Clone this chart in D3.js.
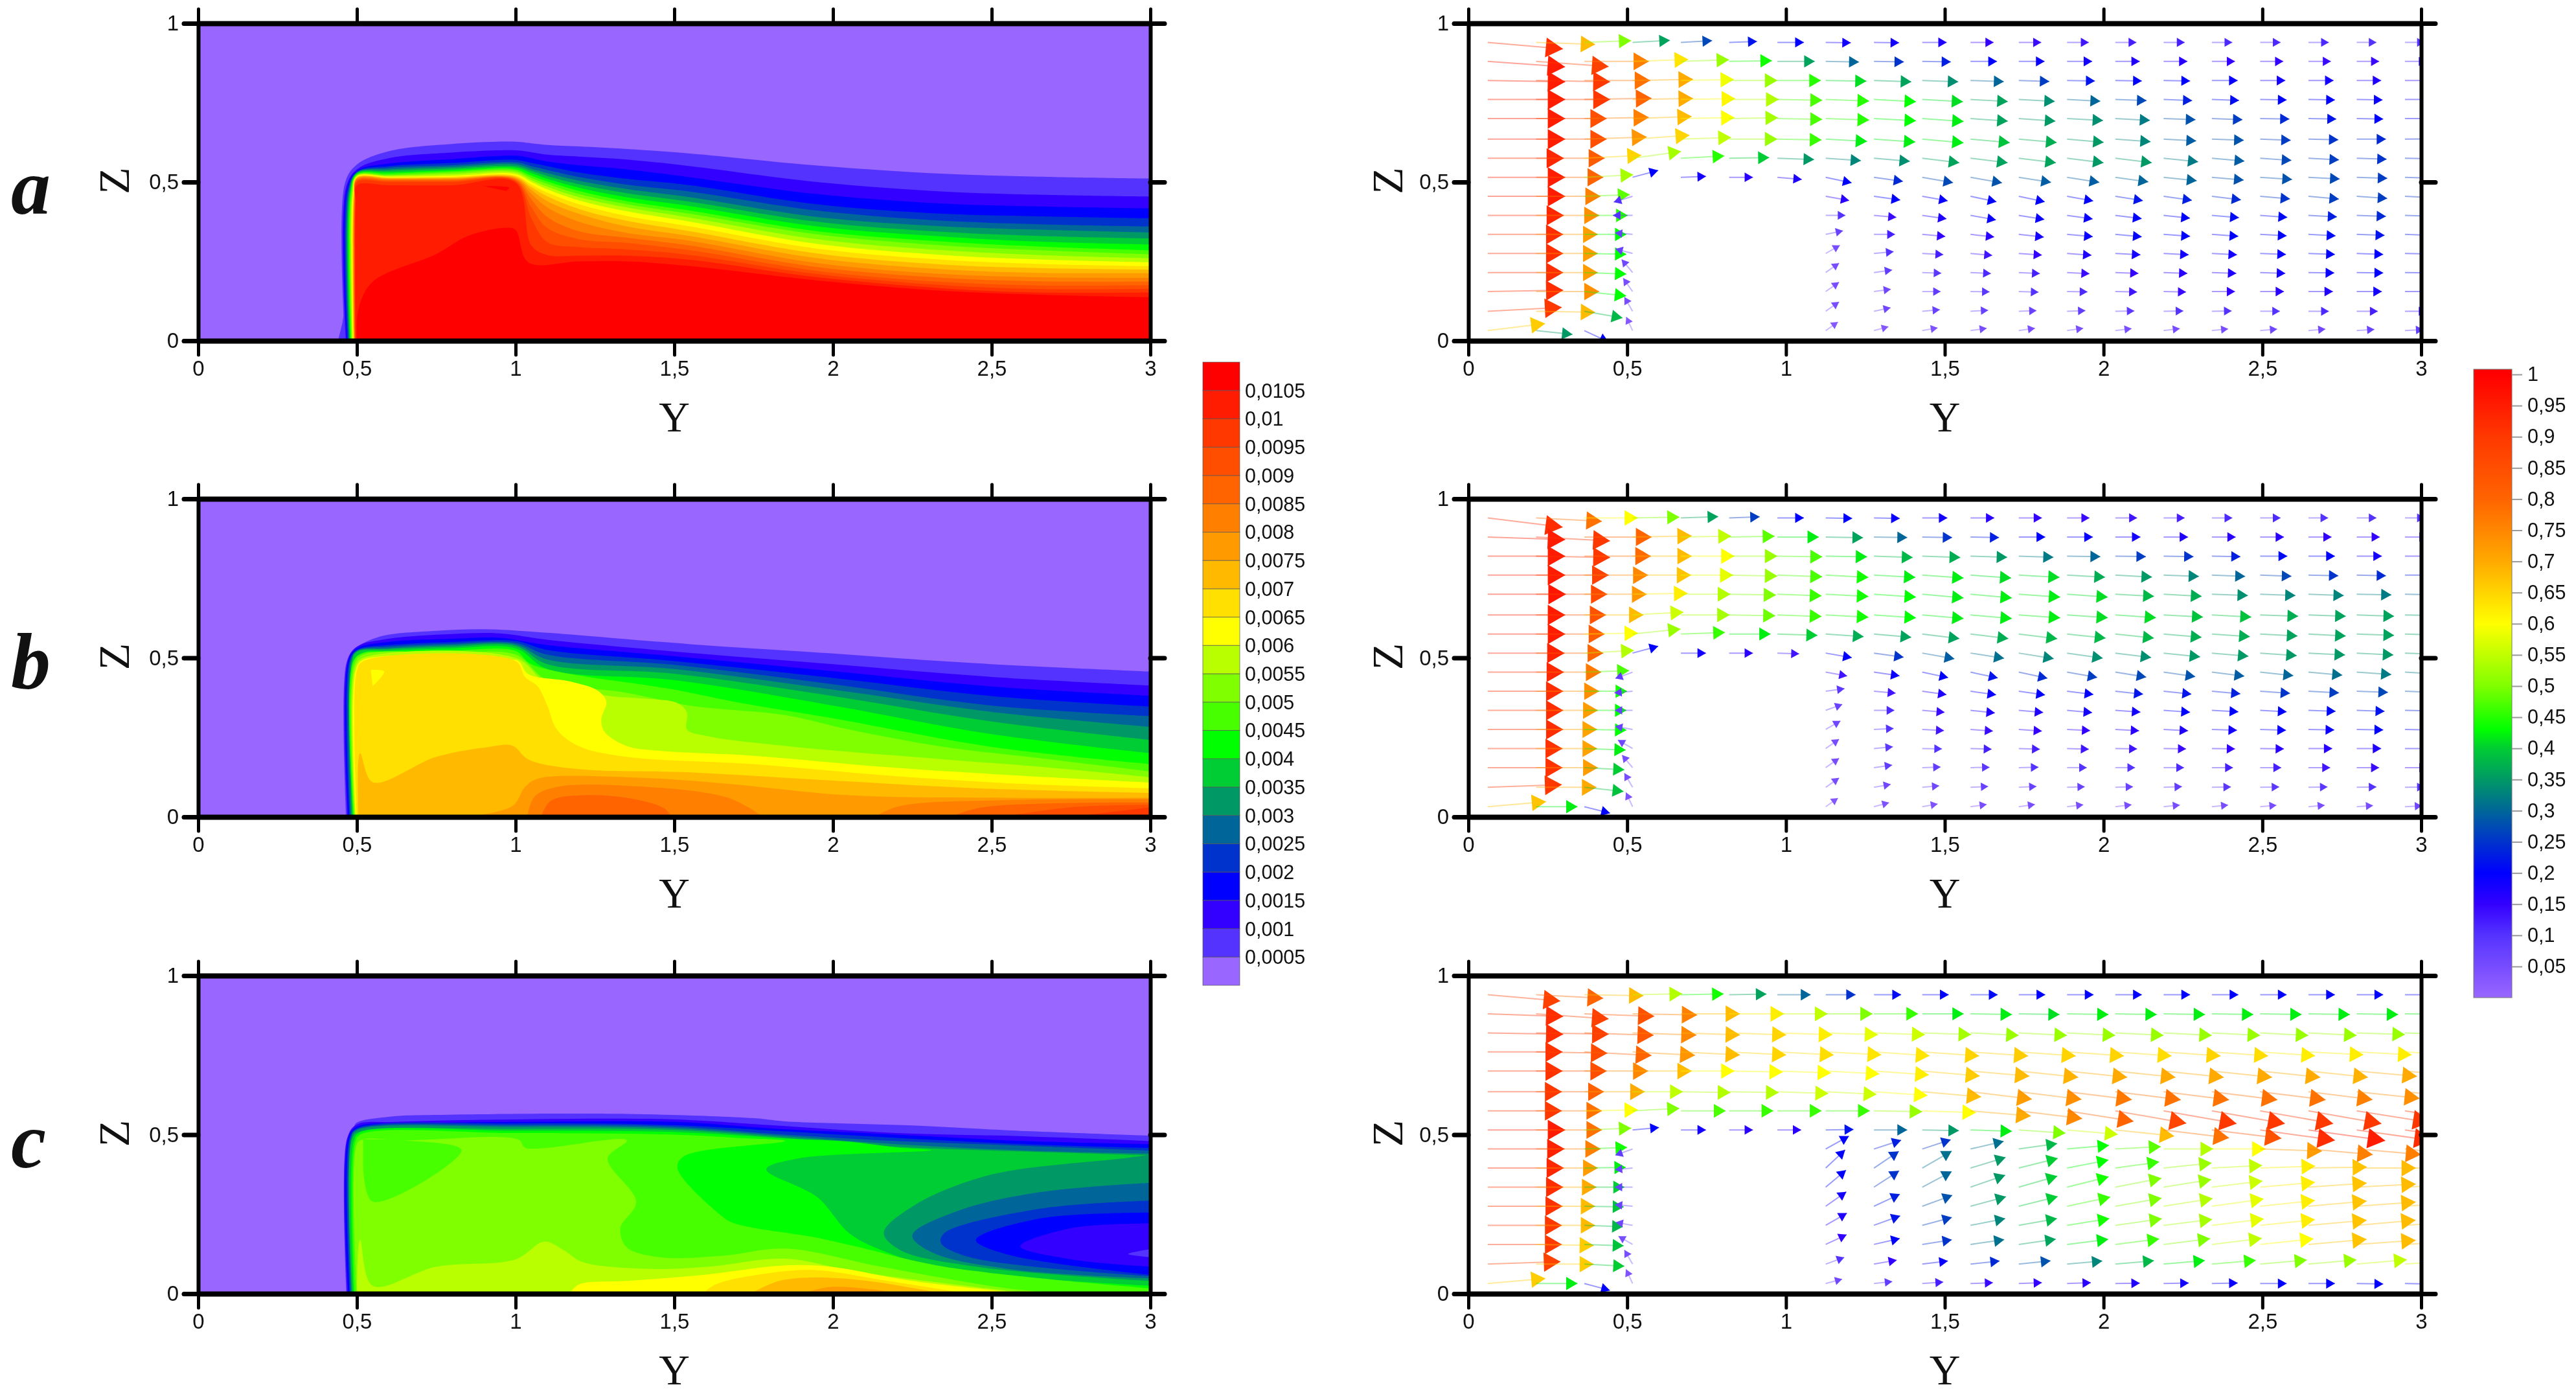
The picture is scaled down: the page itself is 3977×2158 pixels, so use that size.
<!DOCTYPE html>
<html>
<head>
<meta charset="utf-8">
<script src="https://cdn.jsdelivr.net/npm/d3@7"></script>
<style>
html, body { margin: 0; padding: 0; background: #fff; }
svg { display: block; filter: blur(0.7px); }
text { fill: #111; }
</style>
</head>
<body>
<script>
var xTicks = [0, 0.5, 1, 1.5, 2, 2.5, 3];
var zTicks = [0, 0.5, 1];
var panelNames = ['a', 'b', 'c'];

// colour of each concentration band, lowest first
var bandColors = ['#9966ff', '#5533ff', '#3300ff', '#0000ff', '#0033cc', '#006699', '#009966', '#00cc33',
    '#00ff00', '#48ff00', '#80ff00', '#b9ff00', '#ffff00', '#ffe000', '#ffba00', '#ff9b00',
    '#ff8000', '#ff6400', '#ff4e00', '#ff3800', '#ff1c00', '#ff0000'];
var bandLabels = ['0,0005', '0,001', '0,0015', '0,002', '0,0025', '0,003', '0,0035', '0,004', '0,0045', '0,005',
    '0,0055', '0,006', '0,0065', '0,007', '0,0075', '0,008', '0,0085', '0,009', '0,0095', '0,01', '0,0105'];

var speedTicks = [0.05, 0.1, 0.15, 0.2, 0.25, 0.3, 0.35, 0.4, 0.45, 0.5, 0.55, 0.6, 0.65, 0.7, 0.75, 0.8, 0.85, 0.9, 0.95, 1];
var speedStops = [0, 0.1, 0.15, 0.2, 0.3, 0.35, 0.4, 0.43, 0.5, 0.6, 0.7, 0.8, 0.9, 1];
var speedColors = ['#9966ff', '#5533ff', '#3300ff', '#0000ff', '#006699', '#009966', '#00cc33', '#00ff00',
    '#80ff00', '#ffff00', '#ffaa00', '#ff6400', '#ff3800', '#ff0000'];

// panel a: height of each contour (0,0005 ... 0,01) at each station along Y
var aStations = [0.5, 0.6, 0.8, 1, 1.05, 1.1, 1.2, 1.35, 1.55, 1.95, 2.35, 2.65, 3];
var aWall = [0.462, 0.465, 0.468, 0.47, 0.473, 0.475, 0.477, 0.479, 0.481, 0.483, 0.485, 0.487, 0.489, 0.49, 0.491, 0.492, 0.493, 0.494, 0.495, 0.496];
var aHeights = [
    [.555, .54, .535, .533, .531, .53, .528, .526, .524, .522, .52, .518, .516, .514, .512, .51, .507, .504, .5, .49],
    [.597, .575, .558, .55, .545, .54, .535, .53, .526, .522, .52, .517, .515, .513, .511, .509, .507, .504, .5, .49],
    [.62, .593, .572, .56, .553, .548, .543, .538, .534, .53, .525, .52, .517, .514, .512, .51, .507, .504, .5, .49],
    [.627, .6, .583, .57, .562, .556, .55, .545, .54, .535, .53, .525, .52, .517, .514, .511, .508, .505, .502, .498],
    [.622, .594, .575, .56, .55, .542, .535, .528, .52, .513, .506, .5, .492, .484, .475, .462, .445, .42, .385, .3],
    [.617, .586, .565, .55, .538, .528, .519, .51, .502, .494, .485, .477, .467, .455, .44, .42, .39, .355, .31, .27],
    [.612, .58, .553, .53, .516, .504, .493, .482, .472, .462, .452, .442, .43, .415, .4, .375, .345, .32, .295, .268],
    [.604, .571, .54, .51, .492, .478, .465, .452, .44, .43, .42, .408, .393, .378, .36, .34, .325, .308, .288, .268],
    [.59, .55, .515, .49, .47, .452, .438, .424, .41, .4, .388, .375, .36, .345, .33, .315, .3, .285, .27, .255],
    [.552, .5, .462, .43, .41, .39, .375, .36, .345, .335, .32, .305, .29, .275, .26, .245, .232, .22, .21, .2],
    [.526, .47, .432, .4, .378, .36, .343, .328, .312, .3, .285, .27, .255, .24, .225, .21, .198, .185, .175, .165],
    [.517, .46, .423, .392, .367, .35, .33, .312, .297, .285, .27, .256, .242, .229, .214, .2, .187, .174, .163, .152],
    [.511, .454, .417, .386, .36, .341, .322, .303, .285, .272, .26, .247, .235, .224, .213, .198, .186, .175, .164, .152]
];
var aCore = [[.5, 0], [.505, .1], [.55, .186], [.75, .273], [.85, .33], [.97, .356], [1, .349], [1.04, .247], [1.2, .25], [1.35, .25], [1.55, .235], [1.95, .19], [2.35, .157], [2.65, .145], [3, .137]];
var aFlare = [[.44, 0], [.455, .06], [.465, .14], [.47, 0]];
var aSpot = [[.9, .487], [.98, .482], [.97, .472]];

// panel b: regions above each level, each one is [band, outline]; outlines run down to z = 0
var bAreas = [
    [1, [[.466, 0], [.466, .48], [.49, .525], [.57, .566], [.75, .585], [.9, .59], [1.07, .581], [1.55, .543], [1.95, .517], [2.45, .483], [3, .457]]],
    [2, [[.47, 0], [.47, .49], [.5, .535], [.6, .56], [.8, .575], [.95, .577], [1.1, .557], [1.5, .52], [2, .48], [2.5, .44], [3, .413]]],
    [3, [[.473, 0], [.473, .49], [.5, .53], [.6, .55], [.8, .56], [.95, .563], [1.1, .54], [1.5, .505], [2, .458], [2.5, .41], [3, .381]]],
    [4, [[.476, 0], [.476, .49], [.5, .525], [.6, .54], [.8, .55], [1, .553], [1.1, .525], [1.5, .49], [2, .437], [2.5, .38], [3, .347]]],
    [5, [[.479, 0], [.479, .49], [.5, .523], [.6, .535], [.8, .545], [1, .547], [1.1, .51], [1.5, .478], [2, .417], [2.5, .35], [3, .317]]],
    [6, [[.482, 0], [.482, .49], [.5, .521], [.6, .53], [.8, .54], [1, .542], [1.1, .495], [1.5, .465], [2, .4], [2.5, .33], [3, .283]]],
    [7, [[.485, 0], [.485, .49], [.5, .519], [.6, .527], [.8, .535], [1, .537], [1.1, .48], [1.5, .45], [2, .38], [2.5, .3], [3, .242]]],
    [8, [[.488, 0], [.488, .49], [.52, .517], [.6, .522], [.8, .53], [1, .53], [1.1, .465], [1.5, .43], [2, .35], [2.5, .26], [3, .2]]],
    [9, [[.49, 0], [.49, .49], [.52, .515], [.6, .517], [.8, .523], [1, .522], [1.05, .48], [1.5, .4], [1.7, .36], [2, .31], [2.5, .22], [3, .166]]],
    [10, [[.492, 0], [.492, .48], [.52, .51], [.8, .515], [1, .51], [1.1, .43], [1.35, .39], [1.55, .35], [1.85, .32], [2.05, .275], [2.35, .22], [2.65, .185], [3, .143]]],
    [11, [[.494, 0], [.494, .47], [.52, .5], [1, .5], [1.1, .42], [1.29, .381], [1.4, .372], [1.51, .358], [1.54, .328], [1.54, .275], [1.61, .253], [1.85, .223], [2.35, .181], [2.65, .158], [3, .125]]],
    [12, [[.496, 0], [.496, .46], [.52, .494], [.98, .494], [1.01, .49], [1.04, .449], [1.17, .426], [1.26, .396], [1.286, .362], [1.27, .306], [1.28, .268], [1.35, .223], [1.45, .208], [1.75, .192], [2.15, .158], [2.55, .132], [3, .108]]],
    [13, [[.5, 0], [.5, .46], [.52, .49], [1, .49], [1.03, .44], [1.07, .41], [1.1, .35], [1.13, .275], [1.2, .222], [1.35, .189], [1.75, .166], [2.15, .132], [2.55, .106], [3, .09]]],
    [14, [[.505, 0], [.51, .2], [.55, .109], [.75, .189], [.91, .219], [.99, .224], [1.04, .181], [1.19, .151], [1.55, .14], [1.95, .117], [2.45, .09], [3, .075]]],
    [15, [[.84, 0], [.99, .034], [1.03, .094], [1.07, .12], [1.35, .125], [1.65, .106], [2.05, .068], [2.55, .06], [3, .06]]],
    [16, [[1.036, 0], [1.06, .064], [1.13, .094], [1.35, .098], [1.67, .06], [1.78, 0]]],
    [16, [[2.13, 0], [2.21, .034], [2.55, .053], [3, .056]]],
    [17, [[1.08, 0], [1.11, .05], [1.21, .068], [1.35, .06], [1.47, .026], [1.49, 0]]],
    [17, [[2.37, 0], [2.47, .03], [3, .045]]],
    [18, [[2.53, 0], [2.75, .03], [3, .038]]],
    [19, [[2.75, 0], [3, .03]]]
];
var bPatches = [
    [12, [[.544, .462], [.586, .457], [.55, .411]]]
];

// panel c
var cAreas = [
    [1, [[.467, 0], [.467, .48], [.49, .523], [.5, .538], [.61, .557], [.75, .562], [1.35, .565], [1.75, .552], [1.85, .542], [2.25, .529], [2.55, .514], [3, .497]]],
    [2, [[.47, 0], [.47, .49], [.5, .532], [.62, .54], [1, .548], [1.5, .548], [1.8, .53], [2.2, .505], [2.6, .495], [3, .48]]],
    [3, [[.473, 0], [.473, .49], [.5, .525], [.7, .535], [1, .54], [1.5, .54], [1.8, .52], [2.2, .5], [2.6, .48], [3, .47]]],
    [4, [[.477, 0], [.477, .49], [.5, .52], [1, .535], [1.5, .53], [1.85, .51], [2.2, .49], [2.6, .47], [3, .458]]],
    [5, [[.48, 0], [.48, .49], [.5, .517], [1, .53], [1.5, .525], [1.85, .5], [2.2, .48], [2.6, .465], [3, .45]]],
    [6, [[.483, 0], [.483, .49], [.5, .514], [1, .525], [1.5, .52], [1.85, .495], [2.2, .47], [2.6, .45], [3, .44]]],
    [7, [[.486, 0], [.486, .49], [.51, .51], [1, .518], [1.5, .515], [1.85, .49], [2.2, .462], [2.6, .447], [3, .435]]],
    [8, [[.49, 0], [.49, .48], [.51, .507], [1, .512], [1.5, .508], [1.85, .488], [2.05, .478], [2.2, .46], [2.31, .451], [1.89, .425], [1.79, .391], [1.95, .304], [2.05, .191], [2.15, .138], [2.35, .078], [3, .025]]],
    [9, [[.493, 0], [.493, .47], [.51, .5], [1, .505], [1.5, .5], [1.7, .49], [1.85, .48], [1.53, .432], [1.51, .395], [1.65, .244], [1.69, .221], [1.95, .176], [2.07, .149], [2.35, .085], [3, .017]]],
    [10, [[.5, 0], [.5, .47], [.52, .485], [.65, .482], [1.01, .484], [1.03, .459], [1.35, .482], [1.29, .425], [1.38, .289], [1.33, .206], [1.35, .146], [1.45, .115], [1.65, .119], [1.85, .142], [2.15, .085], [2.55, .017], [2.75, 0]]],
    [11, [[.5, 0], [.51, .17], [.55, .025], [.75, .085], [1, .108], [1.09, .164], [1.15, .138], [1.21, .1], [1.43, .078], [1.61, .085], [1.85, .11], [2.07, .07], [2.63, 0]]],
    [12, [[1.17, 0], [1.2, .029], [1.35, .04], [1.59, .059], [1.85, .089], [1.99, .085], [2.25, .04], [2.61, 0]]],
    [13, [[1.59, 0], [1.63, .029], [1.81, .066], [1.95, .074], [2.15, .044], [2.43, 0]]],
    [14, [[1.74, 0], [1.83, .04], [1.95, .051], [2.11, .04], [2.35, 0]]],
    [15, [[1.9, 0], [1.99, .021], [2.13, .013], [2.21, 0]]]
];
var cPatches = [
    [9, [[.52, .485], [.65, .482], [.83, .451], [.55, .289], [.52, .395]]],
    [6, [[3, .437], [2.91, .425], [2.49, .372], [2.25, .274], [2.16, .191], [2.21, .138], [2.45, .085], [3, .04]]],
    [5, [[3, .349], [2.65, .319], [2.39, .259], [2.25, .183], [2.31, .131], [2.55, .078], [3, .048]]],
    [4, [[3, .293], [2.65, .267], [2.35, .19], [2.34, .16], [2.43, .115], [3, .055]]],
    [3, [[3, .255], [2.65, .236], [2.45, .169], [2.55, .123], [3, .059]]],
    [2, [[3, .221], [2.75, .206], [2.59, .149], [2.75, .108], [3, .085]]],
    [1, [[3, .14], [2.93, .125], [3, .115]]]
];

// vector field sampling points
var vecY = [.061, .213, .365, .517, .669, .821, .973, 1.125, 1.277, 1.429, 1.581, 1.733, 1.885, 2.037, 2.189, 2.341, 2.493, 2.645, 2.797, 2.949];
var vecZ = [.94, .88, .82, .76, .7, .635, .575, .515, .455, .395, .335, .275, .215, .155, .093, .032];
var _ = null;

// speed in hundredths, rows top to bottom, and direction in degrees from +Y
var aSpeed = [
    [92, 68, 50, 36, 27, 22, 20, 18, 18, 17, 15, 14, 13, 12, 12, 11, 11, 11, 10, 10],
    [95, 88, 76, 63, 52, 44, 36, 30, 25, 23, 20, 19, 18, 17, 16, 15, 15, 14, 14, 13],
    [95, 90, 78, 70, 59, 52, 45, 41, 36, 34, 30, 26, 22, 20, 20, 19, 18, 18, 17, 16],
    [95, 90, 80, 70, 61, 54, 47, 45, 43, 41, 36, 34, 30, 27, 23, 21, 20, 20, 19, 18],
    [95, 85, 76, 68, 60, 53, 47, 45, 43, 42, 36, 35, 34, 32, 28, 26, 24, 22, 20, 19],
    [95, 85, 73, 65, 55, 52, 46, 42, 42, 42, 39, 37, 35, 33, 29, 28, 26, 25, 24, 23],
    [93, 82, 65, 53, 45, 40, 35, 33, 34, 36, 36, 36, 35, 35, 32, 29, 27, 26, 25, 24],
    [95, 80, 53, 20, 18, 16, 17, 20, 24, 27, 28, 29, 29, 30, 30, 28, 28, 27, 26, 25],
    [95, 76, 48, 10, _, _, _, 16, 20, 19, 20, 20, 20, 22, 23, 24, 25, 26, 26, 25],
    [93, 74, 45, 10, _, _, _, 10, 14, 17, 19, 19, 19, 20, 20, 21, 21, 23, 24, 24],
    [92, 72, 43, 7, _, _, _, 7, 12, 15, 16, 18, 19, 20, 20, 20, 20, 21, 22, 22],
    [92, 72, 43, 7, _, _, _, 5, 10, 12, 13, 15, 17, 18, 18, 18, 19, 20, 20, 20],
    [92, 72, 43, 6, _, _, _, 5, 8, 9, 11, 12, 14, 15, 16, 17, 18, 19, 20, 20],
    [92, 74, 43, 5, _, _, _, 5, 6, 8, 9, 10, 11, 13, 14, 15, 16, 17, 18, 18],
    [90, 68, 38, 5, _, _, _, 5, 6, 7, 7, 7, 8, 9, 10, 10, 10, 11, 12, 13],
    [66, 35, 20, 3, _, _, _, 3, 3, 4, 5, 5, 5, 5, 5, 5, 6, 6, 7, 8]
];
var aAngle = [
    [-5, -2, 2, 3, 3, 2, 0, -1, -1, 0, 0, 0, 0, 0, 0, 0, 0, 0, 0, 0],
    [-4, -4, 0, 2, 2, 1, 0, -1, -1, -1, 0, 0, 0, 0, 0, 0, 0, 0, 0, 0],
    [-1, -1, 0, 1, 1, 0, 0, -1, -2, -2, -2, -2, -1, -1, -1, 0, 0, 0, 0, 0],
    [0, 0, 1, 1, 1, 0, -1, -2, -3, -3, -3, -3, -3, -2, -2, -2, -1, -1, -1, 0],
    [0, 0, 1, 2, 1, 1, -1, -2, -3, -4, -4, -4, -3, -3, -2, -2, -1, -1, -1, 0],
    [0, 0, 2, 4, 2, 0, -1, -3, -4, -5, -5, -5, -5, -4, -3, -2, -2, -1, 0, 1],
    [0, 0, 3, 8, 3, 1, -2, -4, -5, -7, -7, -7, -7, -7, -6, -5, -4, -3, -2, -1],
    [0, 0, 3, 15, 2, 0, -5, -12, -8, -10, -10, -9, -9, -8, -6, -5, -4, -3, -2, -2],
    [0, 0, 2, 197, _, _, _, -10, -8, -10, -12, -12, -10, -9, -8, -7, -5, -5, -4, -3],
    [0, 0, 0, 180, _, _, _, 0, -5, -8, -10, -9, -8, -7, -6, -5, -4, -3, -2, -2],
    [0, 0, 0, 175, _, _, _, 12, 0, -5, -6, -6, -5, -5, -4, -4, -3, -3, -2, -2],
    [0, 0, -1, 165, _, _, _, 30, 5, -3, -5, -4, -4, -3, -3, -3, -2, -2, -2, -1],
    [0, 0, -2, 130, _, _, _, 35, 8, -2, -3, -3, -3, -2, -2, -2, -2, -1, -1, -1],
    [1, 0, -6, 125, _, _, _, 35, 8, 0, -1, -2, -1, -1, -1, 0, 0, 0, 0, 0],
    [3, -1, -10, 120, _, _, _, 35, 12, 5, 3, 2, 2, 1, 1, 1, 0, 0, 0, 0],
    [7, -6, -25, 115, _, _, _, 35, 15, 10, 8, 8, 8, 7, 7, 6, 5, 5, 4, 3]
];

var bSpeed = [
    [92, 78, 60, 50, 36, 26, 20, 20, 19, 18, 16, 15, 14, 13, 12, 11, 11, 10, 10, 10],
    [95, 90, 80, 68, 55, 48, 42, 36, 30, 25, 23, 20, 19, 18, 17, 16, 16, 15, 15, 14],
    [95, 90, 79, 68, 60, 52, 47, 42, 38, 37, 35, 32, 30, 26, 25, 23, 21, 20, 18, 17],
    [95, 88, 75, 67, 58, 52, 47, 44, 42, 42, 41, 41, 37, 35, 33, 30, 27, 25, 24, 22],
    [96, 86, 73, 62, 54, 50, 46, 44, 43, 42, 42, 42, 41, 38, 37, 34, 33, 33, 32, 30],
    [95, 84, 68, 56, 53, 49, 46, 44, 43, 42, 42, 42, 41, 41, 39, 39, 37, 36, 36, 35],
    [95, 82, 60, 52, 46, 42, 40, 37, 36, 36, 37, 38, 38, 38, 37, 37, 36, 36, 36, 36],
    [94, 80, 54, 20, 18, 16, 13, 20, 25, 29, 31, 33, 34, 34, 35, 35, 35, 35, 35, 35],
    [93, 77, 47, 8, _, _, _, 13, 19, 20, 22, 24, 26, 27, 28, 29, 30, 31, 32, 32],
    [92, 74, 44, 8, _, _, _, 9, 13, 17, 19, 20, 20, 22, 22, 23, 25, 26, 27, 28],
    [92, 72, 43, 7, _, _, _, 7, 11, 14, 17, 17, 18, 18, 20, 20, 20, 21, 22, 23],
    [92, 71, 43, 7, _, _, _, 6, 10, 13, 14, 15, 15, 16, 17, 18, 19, 19, 20, 20],
    [91, 71, 42, 6, _, _, _, 5, 9, 10, 12, 12, 13, 13, 14, 15, 16, 16, 17, 18],
    [91, 72, 40, 5, _, _, _, 5, 8, 8, 9, 10, 10, 10, 11, 12, 12, 13, 14, 14],
    [90, 70, 39, 5, _, _, _, 5, 6, 6, 7, 7, 7, 7, 8, 9, 9, 9, 10, 10],
    [67, 42, 20, 4, _, _, _, 3, 4, 4, 5, 5, 5, 5, 5, 5, 5, 5, 5, 6]
];
var bAngle = [
    [-7, -3, 0, 1, 2, 2, 0, -1, -1, 0, 0, 0, 0, 0, 0, 0, 0, 0, 0, 0],
    [-2, -3, 0, 1, 1, 1, 0, -1, -1, -1, -1, 0, 0, 0, 0, 0, 0, 0, 0, 0],
    [0, -1, 0, 0, 0, 0, -1, -1, -2, -2, -2, -2, -1, -1, -1, -1, 0, 0, 0, 0],
    [0, 0, 0, 0, 0, -1, -2, -3, -3, -4, -4, -3, -3, -3, -2, -2, -2, -1, -1, 0],
    [0, 0, 0, 1, 0, -1, -2, -3, -4, -5, -5, -4, -4, -3, -3, -2, -2, -2, -1, -1],
    [0, 0, 0, 3, 0, -1, -2, -3, -4, -5, -5, -4, -4, -4, -3, -3, -2, -2, -2, -1],
    [0, 0, 1, 6, 2, 0, -2, -4, -5, -7, -7, -7, -6, -6, -5, -4, -3, -3, -2, -2],
    [0, 0, 3, 15, 0, 0, -2, -10, -8, -10, -9, -9, -8, -7, -6, -5, -4, -3, -3, -2],
    [0, 0, 2, 200, _, _, _, -10, -8, -12, -12, -12, -10, -9, -8, -7, -6, -5, -4, -3],
    [0, 0, 0, 185, _, _, _, 8, -5, -8, -8, -8, -7, -6, -6, -5, -4, -3, -2, -2],
    [0, 0, 0, 180, _, _, _, 20, 0, -5, -6, -5, -5, -4, -4, -3, -3, -2, -2, -1],
    [0, 0, -1, 170, _, _, _, 30, 3, -3, -4, -4, -3, -3, -3, -2, -2, -1, -1, -1],
    [0, 0, -2, 150, _, _, _, 35, 5, -1, -2, -2, -2, -1, -1, -1, -1, 0, 0, 0],
    [0, 0, -3, 130, _, _, _, 35, 8, 2, 1, 1, 0, 0, 0, 0, 0, 0, 0, 0],
    [2, 0, -6, 120, _, _, _, 35, 10, 5, 3, 3, 2, 2, 2, 1, 1, 1, 1, 1],
    [5, 0, -14, 115, _, _, _, 35, 15, 10, 8, 8, 7, 7, 6, 6, 5, 5, 4, 3]
];

var cSpeed = [
    [88, 80, 68, 54, 44, 36, 30, 25, 21, 20, 21, 20, 20, 20, 20, 20, 20, 20, 20, 20],
    [92, 88, 84, 76, 68, 62, 55, 50, 46, 42, 42, 41, 42, 42, 42, 42, 42, 42, 42, 42],
    [92, 88, 83, 75, 68, 65, 62, 58, 56, 53, 52, 52, 52, 52, 52, 52, 52, 52, 52, 50],
    [91, 86, 80, 73, 68, 65, 64, 63, 63, 65, 66, 65, 65, 64, 65, 64, 62, 62, 62, 61],
    [91, 85, 75, 68, 60, 60, 60, 60, 62, 66, 68, 69, 70, 70, 70, 70, 70, 69, 70, 70],
    [90, 81, 70, 55, 54, 54, 56, 56, 60, 68, 72, 74, 77, 78, 78, 78, 78, 76, 74, 74],
    [90, 78, 60, 50, 47, 46, 46, 46, 52, 60, 70, 75, 80, 87, 90, 90, 90, 90, 90, 90],
    [95, 78, 50, 20, 18, 16, 16, 22, 30, 35, 42, 50, 56, 68, 78, 84, 92, 95, 92, 92],
    [94, 76, 44, 8, _, _, _, 20, 23, 25, 31, 38, 43, 48, 54, 60, 72, 76, 76, 76],
    [93, 72, 42, 7, _, _, _, 20, 25, 31, 35, 40, 43, 46, 52, 55, 62, 67, 68, 68],
    [92, 70, 40, 7, _, _, _, 20, 25, 30, 35, 40, 44, 50, 52, 56, 62, 67, 68, 68],
    [91, 68, 39, 7, _, _, _, 18, 23, 28, 35, 40, 46, 50, 54, 58, 62, 67, 68, 68],
    [90, 68, 38, 6, _, _, _, 17, 22, 26, 33, 38, 44, 50, 53, 58, 62, 67, 68, 68],
    [90, 66, 39, 5, _, _, _, 15, 20, 25, 31, 36, 42, 46, 50, 55, 60, 67, 68, 68],
    [88, 66, 40, 5, _, _, _, 10, 15, 19, 24, 28, 33, 38, 42, 46, 50, 52, 55, 57],
    [66, 42, 20, 4, _, _, _, 6, 8, 12, 14, 15, 16, 17, 18, 19, 20, 20, 20, 20]
];
var cAngle = [
    [-5, -3, -1, 1, 1, 1, 0, 0, 0, 0, 0, 0, 0, 0, 0, 0, 0, 0, 0, 0],
    [-2, -4, -2, -1, 0, 0, 0, 0, 0, 0, -1, -1, -1, -1, -1, -1, -1, -1, -1, -1],
    [-1, -1, -2, -2, -2, -2, -2, -2, -2, -2, -3, -3, -3, -3, -3, -3, -3, -3, -2, -2],
    [0, -1, -3, -3, -3, -3, -3, -3, -4, -4, -4, -4, -4, -4, -4, -4, -4, -3, -3, -3],
    [0, 0, 0, 0, 0, -1, -2, -3, -4, -5, -5, -6, -6, -6, -6, -6, -6, -6, -5, -5],
    [0, 0, 0, 0, -1, -1, -2, -3, -4, -5, -7, -7, -7, -7, -7, -7, -7, -7, -6, -6],
    [0, 0, 1, 3, 0, 0, 0, 0, -1, -2, -5, -7, -9, -10, -10, -10, -10, -10, -9, -9],
    [0, 0, 2, 5, 0, 0, 0, 1, 0, -1, -2, -4, -5, -6, -7, -7, -8, -8, -8, -8],
    [0, 0, 2, 200, _, _, _, 29, 18, 18, 13, 8, 5, 3, 0, 0, -2, -5, -5, -6],
    [0, 0, 1, 185, _, _, _, 43, 34, 30, 17, 14, 11, 8, 6, 3, 2, 1, 0, 0],
    [0, 0, 0, 180, _, _, _, 40, 33, 28, 19, 16, 14, 11, 9, 7, 5, 4, 3, 3],
    [0, 0, -1, 175, _, _, _, 35, 25, 20, 15, 14, 12, 10, 9, 8, 6, 5, 4, 4],
    [0, 0, -2, 170, _, _, _, 30, 20, 15, 11, 10, 9, 8, 7, 7, 6, 5, 5, 4],
    [0, -1, -2, 150, _, _, _, 25, 13, 9, 8, 8, 7, 7, 7, 7, 6, 5, 4, 3],
    [2, 0, -3, 120, _, _, _, 20, 10, 7, 6, 6, 5, 5, 5, 5, 5, 5, 5, 4],
    [5, 0, -15, 115, _, _, _, 15, 6, 4, 2, 2, 2, 1, 1, 1, 0, 0, -1, -1]
];

// clipped row of arrows just under the top wall
var topRowZ = 0.993;
var topRowAngle = 25;
var aTopRow = [10];
var bTopRow = [10, 5];
var cTopRow = [10, 6, 6, 5, 5, 5, 5, 4];

var width = 3977, height = 2158;
var plotW = 1471;
var leftX = 306, rightX = 2267;
var tops = [36, 770, 1506];
var bottoms = [526, 1261, 1997];

var svg = d3.select('body').append('svg').attr('width', width).attr('height', height);
var defs = svg.append('defs');
var fieldRows = [[aSpeed, aAngle, aTopRow], [bSpeed, bAngle, bTopRow], [cSpeed, cAngle, cTopRow]];

var speedColor = d3.scaleLinear().domain(speedStops).range(speedColors);
var arrowLen = d3.scaleLinear().domain([0, 1]).range([20, 125]);
var headLen = d3.scaleLinear().domain([0, 1]).range([10, 28]);

function comma(d) {
    return String(d).replace('.', ',');
}

function drawAxes(g, x, z, i, titleX) {
    var top = tops[i], bottom = bottoms[i], x0 = x.range()[0], x1 = x.range()[1];

    var gb = g.append('g').attr('transform', 'translate(0,' + bottom + ')')
        .call(d3.axisBottom(x).tickValues(xTicks).tickSize(22).tickSizeOuter(0).tickPadding(9).tickFormat(comma));
    var gt = g.append('g').attr('transform', 'translate(0,' + top + ')')
        .call(d3.axisTop(x).tickValues(xTicks).tickSize(22).tickSizeOuter(0).tickFormat(''));
    var gl = g.append('g').attr('transform', 'translate(' + x0 + ',0)')
        .call(d3.axisLeft(z).tickValues(zTicks).tickSize(22).tickSizeOuter(0).tickPadding(8).tickFormat(comma));
    var gr = g.append('g').attr('transform', 'translate(' + x1 + ',0)')
        .call(d3.axisRight(z).tickValues(zTicks).tickSize(22).tickSizeOuter(0).tickFormat(''));

    [gb, gt].forEach(function (a) { a.select('.domain').attr('stroke', '#000').attr('stroke-width', 8); });
    [gl, gr].forEach(function (a) { a.select('.domain').attr('stroke', '#000').attr('stroke-width', 6); });
    gb.selectAll('.tick line').attr('stroke-width', 5);
    gt.selectAll('.tick line').attr('stroke-width', 5);
    gl.selectAll('.tick line').attr('stroke-width', 7);
    gr.selectAll('.tick line').attr('stroke-width', 7);
    [gb, gt, gl, gr].forEach(function (a) {
        a.selectAll('.tick line').attr('stroke', '#000').attr('stroke-linecap', 'round');
        a.selectAll('text').style('font-family', '"Liberation Sans", Arial, sans-serif').style('font-size', '33px').attr('fill', '#111');
    });

    g.append('text').attr('x', (x0 + x1) / 2).attr('y', bottom + 140)
        .attr('text-anchor', 'middle')
        .style('font-family', '"Liberation Serif", serif').style('font-size', '66px').text('Y');
    g.append('text').attr('transform', 'translate(' + titleX + ',' + ((top + bottom) / 2 - 2) + ') rotate(-90)')
        .attr('text-anchor', 'middle')
        .style('font-family', '"Liberation Serif", serif').style('font-size', '68px').text('Z');
}

function contourPanel(i, areas, patches) {
    var top = tops[i], bottom = bottoms[i];
    var x = d3.scaleLinear().domain([0, 3]).range([leftX, leftX + plotW - 1]);
    var z = d3.scaleLinear().domain([0, 1]).range([bottom, top]);
    var line = d3.line().x(function (d) { return x(d[0]); }).y(function (d) { return z(d[1]); })
        .curve(d3.curveCatmullRom.alpha(0.5));

    defs.append('clipPath').attr('id', 'clipL' + i).append('rect')
        .attr('x', x(0)).attr('y', z(1)).attr('width', x(3) - x(0)).attr('height', z(0) - z(1));

    var g = svg.append('g');
    var field = g.append('g').attr('clip-path', 'url(#clipL' + i + ')');
    field.append('rect').attr('x', x(0)).attr('y', z(1)).attr('width', x(3) - x(0)).attr('height', z(0) - z(1))
        .attr('fill', bandColors[0]);

    field.selectAll('path.area').data(areas).enter().append('path').attr('class', 'area')
        .attr('fill', function (d) { return bandColors[d[0]]; })
        .attr('d', function (d) {
            var p = d[1], first = p[0], last = p[p.length - 1];
            return line(p) + 'L' + x(last[0]) + ',' + z(0) + 'L' + x(first[0]) + ',' + z(0) + 'Z';
        });
    field.selectAll('path.patch').data(patches).enter().append('path').attr('class', 'patch')
        .attr('fill', function (d) { return bandColors[d[0]]; })
        .attr('d', function (d) { return line(d[1]) + 'Z'; });

    drawAxes(g, x, z, i, 199);
}

function vectorPanel(i, speed, angle, topRow) {
    var top = tops[i], bottom = bottoms[i];
    var x = d3.scaleLinear().domain([0, 3]).range([rightX, rightX + plotW]);
    var z = d3.scaleLinear().domain([0, 1]).range([bottom, top]);

    defs.append('clipPath').attr('id', 'clipR' + i).append('rect')
        .attr('x', x(0)).attr('y', z(1)).attr('width', x(3) - x(0)).attr('height', z(0) - z(1));

    var vectors = topRow.map(function (v, c) {
        return { y: vecY[c], z: topRowZ, v: v / 100, a: topRowAngle * Math.PI / 180 };
    });
    vecZ.forEach(function (zv, r) {
        vecY.forEach(function (yv, c) {
            if (speed[r][c] === null) return;
            vectors.push({ y: yv, z: zv, v: speed[r][c] / 100, a: angle[r][c] * Math.PI / 180 });
        });
    });

    var g = svg.append('g');
    var field = g.append('g').attr('clip-path', 'url(#clipR' + i + ')');
    var arrows = field.selectAll('g').data(vectors).enter().append('g');

    arrows.append('line')
        .attr('x1', function (d) { return x(d.y); })
        .attr('y1', function (d) { return z(d.z); })
        .attr('x2', function (d) { return x(d.y) + arrowLen(d.v) * Math.cos(d.a); })
        .attr('y2', function (d) { return z(d.z) - arrowLen(d.v) * Math.sin(d.a); })
        .attr('stroke', function (d) { return speedColor(d.v); })
        .attr('stroke-width', 2)
        .attr('stroke-opacity', 0.4);

    arrows.append('path')
        .attr('fill', function (d) { return speedColor(d.v); })
        .attr('d', function (d) {
            var len = arrowLen(d.v), h = headLen(d.v);
            var ca = Math.cos(d.a), sa = Math.sin(d.a);
            var tipX = x(d.y) + len * ca, tipY = z(d.z) - len * sa;
            var baseX = tipX - h * ca, baseY = tipY + h * sa;
            var w = h * 0.58;
            return 'M' + tipX + ',' + tipY +
                'L' + (baseX + w * sa) + ',' + (baseY + w * ca) +
                'L' + (baseX - w * sa) + ',' + (baseY - w * ca) + 'Z';
        });

    drawAxes(g, x, z, i, 2165);
}

// panel a outlines come from the station table
var aLevels = d3.transpose(aHeights).map(function (hs, k) {
    var pts = [[aWall[k], 0], [aWall[k], hs[0] - 0.06]];
    hs.forEach(function (h, s) { pts.push([aStations[s], h]); });
    return [k + 1, pts];
});
aLevels.unshift([1, aFlare]);
aLevels.push([21, aCore]);

contourPanel(0, aLevels, [[21, aSpot]]);
contourPanel(1, bAreas, bPatches);
contourPanel(2, cAreas, cPatches);

fieldRows.forEach(function (f, i) {
    vectorPanel(i, f[0], f[1], f[2]);
});

// panel letters
svg.selectAll('text.letter').data(panelNames).enter().append('text').attr('class', 'letter')
    .attr('x', 17)
    .attr('y', function (d, i) { return [330, 1062, 1802][i]; })
    .style('font-family', '"Liberation Serif", serif')
    .style('font-weight', 'bold').style('font-style', 'italic').style('font-size', '122px')
    .attr('fill', '#000')
    .text(function (d) { return d; });

// left colour key
var keyX = 1857, keyW = 57, keyTop = 559, keyBottom = 1521;
var keyBand = d3.scaleBand().domain(d3.range(bandColors.length)).range([keyBottom, keyTop]);
var keyLevel = d3.scaleLinear().domain([0, bandColors.length]).range([keyBottom, keyTop]);
var leftKey = svg.append('g');
leftKey.selectAll('rect').data(bandColors).enter().append('rect')
    .attr('x', keyX).attr('width', keyW)
    .attr('y', function (d, i) { return keyBand(i); })
    .attr('height', keyBand.bandwidth())
    .attr('fill', function (d) { return d; })
    .attr('stroke', '#555').attr('stroke-width', 1).attr('stroke-opacity', 0.7);
leftKey.selectAll('text').data(bandLabels).enter().append('text')
    .attr('x', keyX + keyW + 8)
    .attr('y', function (d, i) { return keyLevel(i + 1); })
    .attr('dy', '0.36em')
    .style('font-family', '"Liberation Sans", Arial, sans-serif').style('font-size', '30.5px')
    .text(function (d) { return d; });

// right colour key
var barX = 3819, barW = 59;
var barScale = d3.scaleLinear().domain([0, 1]).range([1540, 578]);
var grad = defs.append('linearGradient').attr('id', 'speedGrad')
    .attr('x1', 0).attr('x2', 0).attr('y1', 1).attr('y2', 0);
grad.selectAll('stop').data(speedStops).enter().append('stop')
    .attr('offset', function (d) { return (1540 - barScale(d)) / (1540 - 570); })
    .attr('stop-color', function (d, i) { return speedColors[i]; });
var rightKey = svg.append('g');
rightKey.append('rect').attr('x', barX).attr('y', 570).attr('width', barW).attr('height', 970)
    .attr('fill', 'url(#speedGrad)').attr('stroke', '#777').attr('stroke-width', 1);
rightKey.append('g').attr('transform', 'translate(' + (barX + barW) + ',0)')
    .call(d3.axisRight(barScale).tickValues(speedTicks).tickSize(16).tickSizeOuter(0).tickPadding(8).tickFormat(comma))
    .call(function (a) {
        a.select('.domain').remove();
        a.selectAll('.tick line').attr('stroke', '#999').attr('stroke-width', 2);
        a.selectAll('text').style('font-family', '"Liberation Sans", Arial, sans-serif').style('font-size', '30.5px').attr('fill', '#111');
    });
</script>
</body>
</html>
